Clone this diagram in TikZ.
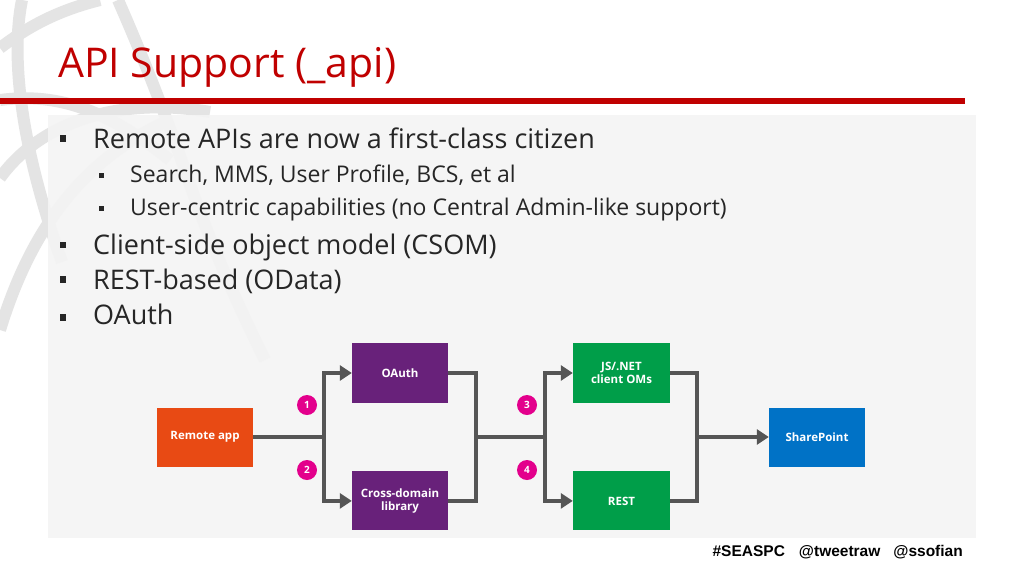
\documentclass[tikz,border=0pt]{standalone}
\usepackage{fontspec}
\setmainfont{Open Sans}
\newfontfamily\tagfont{Liberation Sans}
\usetikzlibrary{positioning, arrows.meta}
\definecolor{titlered}{RGB}{192,0,0}
\definecolor{panelgray}{RGB}{244,244,244}
\definecolor{inkgray}{RGB}{38,38,38}
\definecolor{remoteorange}{RGB}{232,74,20}
\definecolor{oauthpurple}{RGB}{104,33,122}
\definecolor{omgreen}{RGB}{0,158,73}
\definecolor{spblue}{RGB}{0,114,198}
\definecolor{stepmagenta}{RGB}{227,0,140}
\definecolor{wirecolor}{RGB}{85,85,85}
\definecolor{markgray}{RGB}{228,228,228}

\begin{document}
\begin{tikzpicture}[
  x=1pt, y=-1pt,
  apibox/.style={align=center, inner sep=2pt, minimum width=96pt, minimum height=59pt,
                 text=white, font=\fontsize{11.5}{13.5}\selectfont\bfseries},
  badge/.style={circle, fill=stepmagenta, text=white, inner sep=0pt, minimum size=20pt,
                font=\fontsize{10}{11}\selectfont\bfseries},
  wire/.style={line width=4pt, draw=wirecolor},
  rel/.style={wire, -{Triangle[length=12pt, width=15pt]}},
  bul/.style={fill=inkgray, inner sep=0pt, minimum size=6.5pt},
  sbul/.style={fill=inkgray, inner sep=0pt, minimum size=5.5pt},
  lvlone/.style={anchor=base west, inner sep=0pt, text=inkgray, font=\fontsize{27}{31}\selectfont},
  lvltwo/.style={anchor=base west, inner sep=0pt, text=inkgray, font=\fontsize{23}{27}\selectfont},
  wmark/.style={line width=12pt, draw=markgray},
  node distance=68pt
]
\useasboundingbox (0,0) rectangle (1024,576);
\fill[white] (0,0) rectangle (1024,576);

% watermark strokes
\draw[wmark] (0,48) .. controls (30,25) and (60,10) .. (100,0);
\draw[wmark] (118,0) .. controls (140,50) and (160,100) .. (185,170) .. controls (205,230) and (235,300) .. (265,360);
\draw[wmark] (0,100) .. controls (60,92) and (110,112) .. (170,160);
\draw[wmark] (0,178) .. controls (40,122) and (120,96) .. (210,112);
\draw[wmark] (0,330) .. controls (30,232) and (80,162) .. (165,122);
\draw[wmark] (22,0) .. controls (10,60) and (22,150) .. (62,262);

\fill[panelgray, opacity=0.9] (48,115) rectangle (976,538);
\fill[titlered] (0,98) rectangle (965,104);

\node[anchor=base west, inner sep=0pt, text=titlered, font=\fontsize{41}{48}\selectfont]
  (title) at (58,77) {API Support (\_api)};

\node[bul]  (m1) at (63,138.5) {};
\node[lvlone] (t1) at (93,148) {Remote APIs are now a first-class citizen};
\node[sbul] (s1) at (101.5,175.5) {};
\node[lvltwo] (t2) at (130,182) {Search, MMS, User Profile, BCS, et al};
\node[sbul] (s2) at (101.5,208.5) {};
\node[lvltwo] (t3) at (130,215) {User-centric capabilities (no Central Admin-like support)};
\node[bul]  (m2) at (63,245) {};
\node[lvlone] (t4) at (93,254.5) {Client-side object model (CSOM)};
\node[bul]  (m3) at (63,279.5) {};
\node[lvlone] (t5) at (93,289) {REST-based (OData)};
\node[bul]  (m4) at (63,317.5) {};
\node[lvlone] (t6) at (93,324) {OAuth};

\node[apibox, fill=remoteorange] (remote) at (205,437) {Remote app};
\node[apibox, fill=oauthpurple, minimum height=60pt] (oauth) at (400,373) {OAuth};
\node[apibox, fill=oauthpurple, below=of oauth] (cross) {Cross-domain\\library};
\node[apibox, fill=omgreen, minimum height=60pt, minimum width=97pt] (js) at (621.5,373)
  {JS/.NET\\client OMs};
\node[apibox, fill=omgreen, minimum width=97pt, below=of js] (rest) {REST};
\node[apibox, fill=spblue] (sp) at (817,437) {SharePoint};

\coordinate (split1) at (324,437);
\coordinate (join1)  at (476,437);
\coordinate (split2) at (545,437);
\coordinate (join2)  at (697,437);

\draw[wire] (remote.east) -- (split1);
\draw[rel]  (split1) |- (oauth.west);
\draw[rel]  (split1) |- (cross.west);
\draw[wire] (oauth.east) -| (join1) |- (cross.east);
\draw[wire] (join1) -- (split2);
\draw[rel]  (split2) |- (js.west);
\draw[rel]  (split2) |- (rest.west);
\draw[wire] (js.east) -| (join2) |- (rest.east);
\draw[rel]  (join2) -- (sp.west);

\node[badge] (n1) at (307,405) {1};
\node[badge] (n2) at (307,470) {2};
\node[badge] (n3) at (527,405) {3};
\node[badge] (n4) at (527,470) {4};

\node[anchor=base east, inner sep=0pt, font=\tagfont\bfseries\fontsize{15.5}{18}\selectfont]
  (tags) at (963,556) {\#SEASPC\hspace{14pt}@tweetraw\hspace{13pt}@ssofian};
\end{tikzpicture}
\end{document}
